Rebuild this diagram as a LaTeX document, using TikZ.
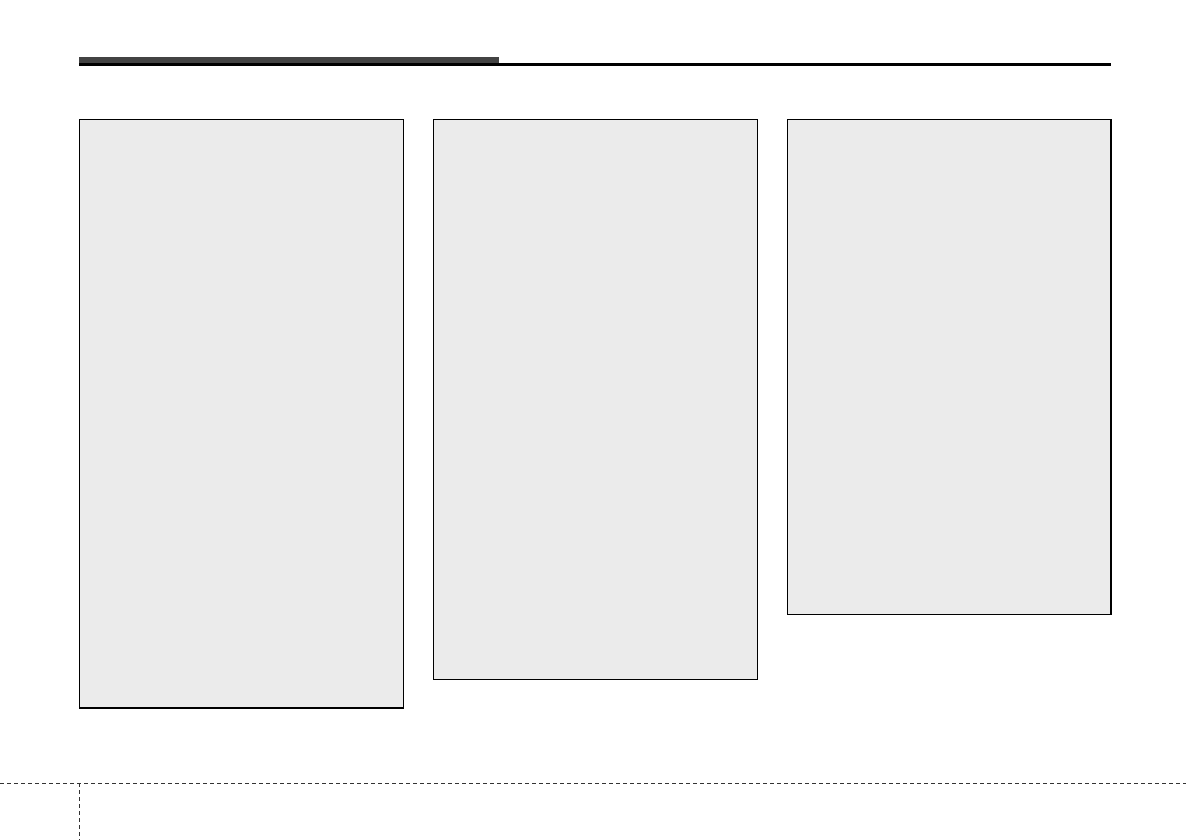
\documentclass[tikz,border=0pt]{standalone}
\begin{document}
\begin{tikzpicture}[x=1pt,y=-1pt,
  panel/.style={draw=black,line width=1.5pt,fill=panelgray},
  dashrule/.style={draw=black!80,line width=1pt,dash pattern=on 4pt off 3pt}]
\definecolor{panelgray}{HTML}{EBEBEB}
\definecolor{bargray}{HTML}{434343}
\useasboundingbox (0,0) rectangle (1186,840);
\fill[white] (0,0) rectangle (1186,840);
% header
\fill[bargray] (79,57) rectangle (499,65.5);
\fill[black] (79,63.3) rectangle (1111,65.8);
% panels
\path[panel] (79.5,119.5) rectangle (403.5,708) node[coordinate] (p1) {};
\path[panel] (433.5,119.5) rectangle (757.5,679.5) node[coordinate] (p2) {};
\path[panel] (787.5,119.5) rectangle (1111,614.5) node[coordinate] (p3) {};
% footer
\draw[dashrule] (0,783) -- (1186,783);
\draw[dashrule] (79,783) -- (79,840);
\end{tikzpicture}
\end{document}
